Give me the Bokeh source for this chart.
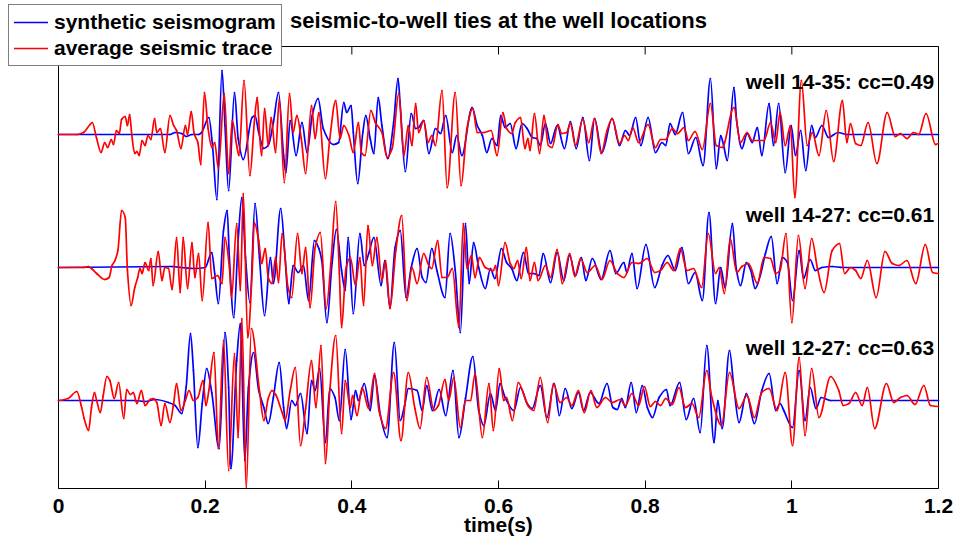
from bokeh.plotting import figure
from bokeh.models import Range1d, FixedTicker, Legend, LegendItem, Label
from bokeh.embed import file_html
from bokeh.resources import INLINE

FONT = "Liberation Sans"

# ---------------- data (time in ms, amplitude in arbitrary units) ----------------
wells = ["14-35", "14-27", "12-27"]
cc_values = [0.49, 0.61, 0.63]
trace_offsets = [266, 133, 0]
x_ticks = [0, 0.2, 0.4, 0.6, 0.8, 1.0, 1.2]
x_tick_labels = ["0", "0.2", "0.4", "0.6", "0.8", "1", "1.2"]
title_text = "seismic-to-well ties at the well locations"
x_label_text = "time(s)"
legend_labels = ["synthetic seismogram", "average seismic trace"]

syn_1435 = [(0,0),(152,0),(159,2),(168,1),(174,-2),(182,0),(191,0),(195,2),(205,17),(210,-11),(216,-65),(223,64),(227,9),(232,-56),(240,42),(245,-4),(252,-25),(264,17),(268,19),(273,2),(280,-14),(286,-11),(293,12),(300,42),(307,-21),(310,-38),(316,14),(324,-21),(332,12),(339,-18),(346,19),(354,36),(361,6),(375,-10),(382,-8),(389,32),(393,22),(399,29),(402,2),(408,-49),(415,2),(419,19),(425,-4),(430,-19),(436,37),(441,9),(449,-24),(457,12),(463,56),(466,29),(473,-37),(481,21),(487,6),(491,7),(498,14),(505,-19),(514,6),(521,1),(528,19),(537,-18),(543,-1),(550,-21),(564,27),(571,9),(578,-1),(584,-18),(591,-4),(598,-11),(603,19),(609,7),(616,11),(624,-14),(632,11),(639,6),(646,-3),(652,-4),(657,-11),(664,11),(671,-9),(680,9),(690,-14),(698,13),(706,-14),(715,17),(724,-26),(731,16),(741,-18),(755,16),(765,-11),(773,4),(779,-1),(787,17),(794,-11),(804,17),(814,-18),(823,-8),(828,-11),(834,11),(841,0),(851,22),(859,-19),(869,-3),(879,-31),(889,56),(897,-34),(903,-1),(907,-11),(912,-26),(921,47),(925,12),(932,-14),(939,1),(946,-8),(953,7),(959,-21),(969,31),(975,-11),(982,31),(991,-38),(999,9),(1005,-21),(1012,4),(1019,-36),(1027,9),(1032,-3),(1041,9),(1050,-3),(1063,2),(1075,0),(1200,0)]

avg_1435 = [(0,0),(25,0),(34,2),(43,10),(46,12),(52,-4),(58,-18),(63,-8),(67,-13),(72,-5),(75,-10),(79,4),(83,1),(86,15),(91,18),(94,9),(97,20),(100,-1),(104,-19),(107,-17),(110,-21),(114,-6),(118,-11),(122,-1),(126,-5),(131,16),(134,2),(139,6),(145,-18),(152,19),(157,9),(161,4),(167,-14),(173,9),(176,0),(181,23),(185,1),(190,-8),(194,-30),(199,42),(204,6),(209,-13),(213,-8),(218,-34),(226,41),(232,-39),(237,14),(243,-11),(246,-21),(253,54),(261,-41),(267,12),(271,37),(274,2),(277,-21),(281,26),(286,-11),(290,17),(296,-18),(301,35),(308,-48),(315,41),(320,2),(325,19),(331,-4),(337,-39),(345,29),(350,-4),(355,22),(364,-44),(370,-4),(378,34),(384,-4),(389,9),(396,-1),(402,-18),(409,12),(413,-18),(418,-21),(426,24),(432,12),(441,2),(448,-23),(455,-14),(464,41),(471,-21),(477,9),(482,-11),(487,31),(491,2),(498,14),(504,-8),(509,-1),(514,-11),(523,44),(530,-53),(541,42),(549,-51),(557,6),(565,26),(571,2),(580,2),(590,4),(598,-21),(606,22),(611,6),(618,1),(623,12),(630,17),(636,-14),(640,-4),(643,-16),(649,21),(656,-19),(662,19),(668,-11),(673,-13),(681,10),(686,1),(693,2),(698,11),(705,-11),(715,15),(723,-8),(731,16),(740,-19),(748,4),(755,16),(765,-9),(772,-1),(777,-6),(783,7),(791,-8),(804,10),(814,-13),(821,-5),(828,-5),(837,6),(844,1),(853,7),(859,-6),(868,3),(878,-15),(889,31),(897,-11),(905,-13),(921,27),(930,-8),(939,2),(946,-6),(962,-6),(971,12),(978,-8),(984,22),(991,-11),(998,9),(1004,-63),(1013,54),(1021,-11),(1028,2),(1037,-21),(1047,24),(1057,-27),(1069,34),(1075,-8),(1080,11),(1087,-9),(1094,-11),(1104,12),(1116,-29),(1130,22),(1141,-2),(1148,1),(1157,-4),(1166,2),(1173,0),(1183,21),(1196,-10),(1200,-9)]

syn_1427 = [(0,0),(155,1),(168,0),(186,-1),(200,0),(209,15),(213,-6),(218,-36),(225,37),(230,57),(233,10),(239,-50),(245,27),(250,70),(255,10),(261,-35),(268,64),(274,10),(281,-48),(289,10),(293,-16),(303,59),(309,10),(314,-36),(320,2),(327,-5),(334,2),(341,-33),(349,27),(355,19),(359,7),(366,-55),(373,4),(379,38),(386,-3),(391,-23),(395,30),(402,-46),(411,34),(417,2),(423,14),(430,30),(440,-18),(445,7),(452,-40),(459,20),(466,37),(474,-30),(481,0),(489,19),(496,-10),(501,-15),(509,19),(516,-3),(527,-30),(534,34),(541,-3),(548,-65),(555,44),(560,-16),(566,25),(573,0),(582,-21),(589,-1),(595,-11),(604,19),(611,5),(618,-1),(625,-13),(634,15),(641,-6),(648,-6),(655,-8),(661,14),(671,-15),(680,15),(689,-13),(697,12),(705,-8),(713,10),(719,-13),(728,9),(740,-12),(752,17),(760,-6),(771,5),(775,-5),(782,14),(789,-21),(801,23),(813,-20),(823,2),(831,12),(841,-3),(850,20),(859,-16),(868,-5),(878,-33),(887,55),(896,-36),(903,0),(909,-20),(919,44),(924,0),(930,-18),(938,5),(944,-3),(950,-21),(957,-8),(964,14),(972,31),(980,-16),(987,10),(994,5),(1001,-33),(1010,17),(1016,-11),(1025,8),(1032,-3),(1041,0),(1055,1),(1070,0),(1200,0)]

avg_1427 = [(0,0),(34,0),(41,1),(45,-1),(52,-6),(63,-12),(69,-10),(73,2),(77,7),(81,17),(86,57),(91,50),(94,-3),(99,-38),(104,-20),(108,-10),(111,-1),(114,-6),(118,5),(123,-3),(126,9),(129,-18),(136,16),(141,-13),(145,0),(150,-1),(155,-22),(161,30),(166,-25),(170,30),(176,-21),(182,25),(186,-10),(191,14),(196,-33),(204,45),(209,-11),(217,-8),(223,-16),(227,30),(233,0),(236,-30),(243,44),(248,-23),(252,74),(258,-70),(264,-6),(267,45),(273,27),(277,4),(282,19),(286,-10),(291,-16),(296,10),(300,-15),(305,34),(313,-20),(318,-30),(326,34),(332,-6),(337,20),(343,-40),(350,20),(357,35),(365,-41),(372,10),(378,66),(383,-6),(386,-60),(392,-1),(398,10),(405,-18),(411,10),(416,-38),(422,42),(428,2),(434,30),(441,-13),(446,7),(452,-41),(460,17),(468,52),(475,-33),(482,0),(489,-16),(498,14),(505,2),(509,-1),(517,27),(523,-10),(530,-10),(537,-1),(546,-60),(552,44),(557,-1),(563,12),(568,-10),(574,10),(582,0),(593,-3),(596,2),(600,-18),(609,25),(616,4),(621,-1),(626,7),(631,-11),(638,20),(643,-13),(649,5),(654,-13),(664,2),(671,-10),(680,18),(687,-16),(697,14),(704,-9),(712,9),(721,-5),(732,2),(741,-12),(752,7),(762,-6),(771,-10),(782,5),(791,4),(803,9),(813,-5),(821,-3),(830,5),(839,-3),(848,19),(857,-3),(866,-1),(877,-20),(886,34),(896,-6),(901,0),(908,-26),(916,29),(925,-5),(932,1),(941,4),(953,-16),(962,10),(971,9),(978,-6),(984,-3),(992,34),(1000,-55),(1009,32),(1018,-21),(1027,29),(1035,-1),(1044,-25),(1055,17),(1065,24),(1072,-6),(1080,0),(1087,-3),(1094,-11),(1103,7),(1115,-30),(1127,16),(1137,4),(1146,2),(1157,7),(1169,-16),(1182,23),(1192,-5),(1200,-6)]

syn_1227 = [(0,0),(104,0),(118,-1),(132,1),(150,-2),(159,-5),(168,-13),(174,13),(180,67),(184,30),(190,-47),(196,-3),(202,32),(209,8),(219,-48),(227,68),(232,13),(235,-68),(243,40),(248,77),(254,-60),(259,13),(266,48),(273,10),(280,-7),(286,-23),(293,3),(301,38),(307,-7),(311,-28),(318,0),(323,-5),(330,7),(339,-33),(345,20),(350,10),(356,32),(364,-42),(370,12),(377,3),(383,-20),(391,51),(399,-19),(405,10),(409,0),(417,17),(425,-10),(431,25),(439,-15),(448,-37),(458,58),(466,-20),(472,-5),(477,12),(489,10),(496,-10),(502,15),(510,-10),(519,11),(528,-15),(538,30),(546,-37),(555,2),(565,44),(573,-10),(580,-25),(589,7),(596,-10),(602,17),(609,3),(621,-10),(630,13),(639,-3),(646,-8),(657,15),(666,-17),(676,17),(683,-15),(691,12),(700,-8),(709,8),(716,-10),(725,8),(737,-3),(748,17),(756,-7),(762,-9),(768,2),(773,-7),(781,18),(788,-12),(796,15),(803,-7),(810,-17),(819,3),(829,11),(834,-5),(847,18),(856,-19),(866,2),(875,-32),(884,55),(894,-42),(899,0),(905,-28),(915,50),(921,13),(928,-22),(938,7),(949,-23),(959,10),(969,27),(978,-10),(984,-3),(989,-10),(1001,-27),(1010,30),(1018,-20),(1025,13),(1033,-8),(1040,3),(1053,0),(1200,0)]

avg_1227 = [(0,0),(13,2),(25,9),(31,-5),(35,-18),(41,-30),(45,-7),(49,8),(52,0),(57,-12),(61,5),(66,24),(70,20),(76,2),(82,18),(89,-18),(93,11),(98,6),(102,8),(107,-3),(113,10),(118,-5),(125,1),(129,2),(134,-2),(140,-25),(145,-3),(152,-22),(157,-3),(161,17),(167,-10),(173,0),(178,10),(184,0),(190,3),(197,20),(201,-5),(205,10),(212,48),(218,-48),(225,60),(232,-70),(240,47),(245,-37),(250,82),(256,-88),(263,72),(274,10),(280,-20),(286,2),(291,10),(296,6),(305,-12),(309,-20),(316,10),(323,33),(330,-45),(337,-8),(345,40),(351,-7),(358,55),(364,-63),(370,10),(378,65),(386,-33),(391,20),(398,-7),(401,5),(407,-15),(414,13),(423,-8),(431,27),(437,-10),(446,-28),(457,28),(467,-40),(477,28),(486,-8),(493,-28),(502,23),(512,-10),(518,-5),(527,21),(532,0),(539,23),(548,-27),(555,0),(562,0),(568,27),(578,-37),(587,17),(593,-30),(601,32),(607,0),(611,3),(619,-20),(627,18),(634,7),(641,-6),(648,-10),(657,23),(667,-22),(675,17),(684,-2),(693,3),(700,-5),(709,10),(717,-12),(726,10),(734,-7),(746,3),(755,-2),(766,1),(773,-5),(782,7),(791,-5),(799,14),(807,-6),(814,-1),(821,-5),(828,2),(837,-4),(846,13),(855,-7),(864,-3),(873,-17),(884,30),(891,3),(904,-25),(915,28),(928,-8),(939,5),(949,-17),(959,8),(969,12),(980,-10),(991,28),(1001,-45),(1010,43),(1018,-35),(1027,32),(1037,-17),(1053,24),(1064,10),(1070,-5),(1078,-3),(1087,8),(1096,-5),(1103,13),(1113,-28),(1129,17),(1139,-2),(1148,3),(1157,5),(1168,-4),(1180,15),(1189,-5),(1200,-6)]

synthetic = [syn_1435, syn_1427, syn_1227]
average = [avg_1435, avg_1427, avg_1227]

# ---------------- layout constants (pixels) ----------------
W, H = 955, 540
AX_LEFT, AX_RIGHT, AX_TOP, AX_BOTTOM = 58, 938, 46, 488   # MATLAB axes box in the window
Y_LO, Y_HI = -88, 354                                       # y limits of the axes box
px_per_s = (AX_RIGHT - AX_LEFT) / (x_ticks[-1] - x_ticks[0])
px_per_unit = (AX_BOTTOM - AX_TOP) / (Y_HI - Y_LO)
x_lo = x_ticks[0] - AX_LEFT / px_per_s
x_hi = x_ticks[-1] + (W - AX_RIGHT) / px_per_s
y_hi = Y_HI + AX_TOP / px_per_unit


def curve_segments(pairs, off):
    """Bezier pieces through the read points (smooth, shape-preserving drawing)."""
    xs = [t / 1000 for t, _ in pairs]
    ys = [off + a for _, a in pairs]
    n = len(xs)
    h = [xs[i + 1] - xs[i] for i in range(n - 1)]
    d = [(ys[i + 1] - ys[i]) / h[i] for i in range(n - 1)]
    m = [0.0] * n
    for i in range(1, n - 1):
        if d[i - 1] * d[i] > 0:
            w1 = 2 * h[i] + h[i - 1]
            w2 = h[i] + 2 * h[i - 1]
            m[i] = (w1 + w2) / (w1 / d[i - 1] + w2 / d[i])
    return dict(
        x0=xs[:-1], y0=ys[:-1], x1=xs[1:], y1=ys[1:],
        cx0=[xs[i] + h[i] / 3 for i in range(n - 1)],
        cy0=[ys[i] + m[i] * h[i] / 3 for i in range(n - 1)],
        cx1=[xs[i + 1] - h[i] / 3 for i in range(n - 1)],
        cy1=[ys[i + 1] - m[i + 1] * h[i] / 3 for i in range(n - 1)],
    )


p = figure(width=W, height=H,
           x_range=Range1d(x_lo, x_hi), y_range=Range1d(Y_LO, y_hi),
           output_backend="svg", toolbar_location=None,
           y_axis_location=None,
           min_border_left=0, min_border_right=0,
           min_border_top=0, min_border_bottom=H - AX_BOTTOM)
p.background_fill_color = "white"
p.border_fill_color = "white"
p.grid.visible = False
p.outline_line_color = None

ticker = FixedTicker(ticks=x_ticks)
xa = p.below[0]
xa.ticker = ticker
xa.bounds = (x_ticks[0], x_ticks[-1])
xa.major_label_overrides = {t: l for t, l in zip(x_ticks, x_tick_labels)}
xa.major_tick_in = 8
xa.major_tick_out = 0
xa.minor_tick_in = 0
xa.minor_tick_out = 0
xa.major_label_standoff = 10
xa.major_label_text_font = FONT
xa.major_label_text_font_size = "21px"
xa.major_label_text_font_style = "bold"
xa.major_label_text_color = "black"
xa.axis_line_color = "black"
xa.major_tick_line_color = "black"
# the axis panel is centred on the whole canvas; pad with no-break spaces so the
# label sits centred under the axes box as in the original
pad = "\u00a0" * 7
xa.axis_label = pad + x_label_text
xa.axis_label_text_font = FONT
xa.axis_label_text_font_size = "21px"
xa.axis_label_text_font_style = "bold"
xa.axis_label_text_color = "black"
xa.axis_label_standoff = -3

# axes box (top, left, right edges) and top tick marks
p.quad(left=x_ticks[0], right=x_ticks[-1], bottom=Y_LO, top=Y_HI,
       fill_color=None, line_color="black", line_width=1)
p.segment(x0=x_ticks, x1=x_ticks, y0=[Y_HI] * len(x_ticks),
          y1=[Y_HI - 8 / px_per_unit] * len(x_ticks),
          line_color="black", line_width=1)

blue_r, red_r = [], []
for off, syn in zip(trace_offsets, synthetic):
    blue_r.append(p.bezier(**curve_segments(syn, off), line_color="#0000FF",
                           line_width=1.7, line_cap="round"))
for off, avg in zip(trace_offsets, average):
    red_r.append(p.bezier(**curve_segments(avg, off), line_color="#FF0000",
                          line_width=1.7, line_cap="round"))

for off, w, c in zip(trace_offsets, wells, cc_values):
    p.add_layout(Label(x=0.937, y=off + 53, text=f"well {w}: cc={c:.2f}",
                       text_font=FONT, text_font_size="21px",
                       text_font_style="bold", text_color="black",
                       text_baseline="middle", text_align="left"))

# title, centred over the axes box
mid_x = (x_ticks[0] + x_ticks[-1]) / 2
p.add_layout(Label(x=mid_x, y=y_hi - 20 / px_per_unit,
                   text=title_text, text_font=FONT, text_font_size="22px",
                   text_font_style="bold", text_color="black",
                   text_baseline="middle", text_align="center"))

legend = Legend(items=[LegendItem(label=legend_labels[0], renderers=[blue_r[0]]),
                       LegendItem(label=legend_labels[1], renderers=[red_r[0]])],
                location=(8, AX_BOTTOM - 66))
legend.label_text_font = FONT
legend.label_text_font_size = "21px"
legend.label_text_font_style = "bold"
legend.label_text_color = "black"
legend.glyph_width = 34
legend.glyph_height = 24
legend.label_height = 24
legend.label_standoff = 6
legend.padding = 5
legend.spacing = 2
legend.margin = 0
legend.border_line_color = "black"
legend.border_line_width = 1
legend.background_fill_color = "white"
legend.background_fill_alpha = 1.0
p.add_layout(legend)

open("out.html", "w").write(file_html(p, INLINE))
